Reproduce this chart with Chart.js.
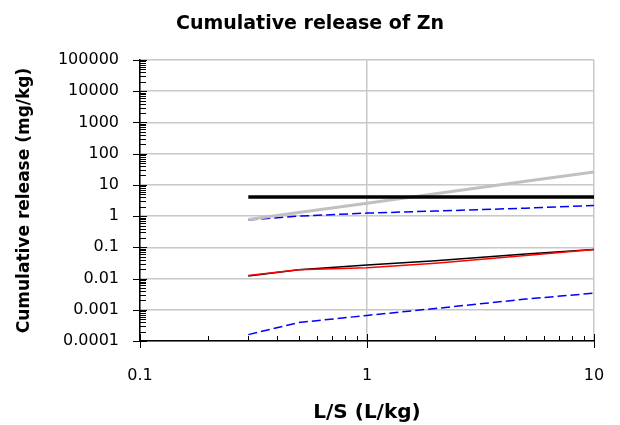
<!DOCTYPE html>
<html>
<head>
<meta charset="utf-8">
<script src="https://cdn.jsdelivr.net/npm/chart.js@4/dist/chart.umd.min.js"></script>
<style>
  html, body { margin: 0; padding: 0; background: #fff; }
  #wrap { width: 620px; height: 425px; position: relative; }
</style>
</head>
<body>
<div id="wrap"><canvas id="znChart"></canvas></div>
<script>
// L/S values (L/kg) and cumulative release of Zn (mg/kg)
const lsSteps = [0.3, 0.5, 1, 2, 5, 10];
const limitLine = [4.1, 4.1, 4.1, 4.1, 4.1, 4.1];
const greyLine = [0.78, 1.3, 2.6, 5.2, 13, 26];
const upperDashed = [0.75, 1.0, 1.25, 1.45, 1.8, 2.2];
const measured = [0.012, 0.019, 0.027, 0.037, 0.061, 0.085];
const modelled = [0.0125, 0.019, 0.022, 0.031, 0.055, 0.085];
const lowerDashed = [0.00016, 0.00039, 0.00066, 0.0011, 0.0022, 0.0034];

const xMajorTicks = [0.1, 1, 10];
const yMajorTicks = [0.0001, 0.001, 0.01, 0.1, 1, 10, 100, 1000, 10000, 100000];
const minorSteps = [2, 3, 4, 5, 6, 7, 8, 9];

const AXIS_FONT = 'DejaVu Sans';

function points(values) {
  return lsSteps.map((x, i) => ({ x: x, y: values[i] }));
}

function buildTicks(majors) {
  const out = [];
  majors.forEach((m, i) => {
    out.push({ value: m, major: true });
    if (i < majors.length - 1) {
      minorSteps.forEach((s) => out.push({ value: +(m * s).toPrecision(6), major: false }));
    }
  });
  return out;
}

function fmt(v) {
  return v < 1 ? v.toFixed(Math.round(-Math.log10(v))) : String(v);
}

// title plus Excel-like tick marks: majors cross the axis, minors point inwards
const chartDecor = {
  id: 'chartDecor',
  afterDraw(chart) {
    const { ctx, chartArea } = chart;
    const xs = chart.scales.x;
    const ys = chart.scales.y;
    ctx.save();
    ctx.strokeStyle = '#000';
    ctx.lineWidth = 1;
    ctx.beginPath();
    ys.ticks.forEach((t) => {
      const py = Math.round(ys.getPixelForValue(t.value)) + 0.5;
      if (t.major) { ctx.moveTo(chartArea.left - 7, py); ctx.lineTo(chartArea.left + 7, py); }
      else { ctx.moveTo(chartArea.left, py); ctx.lineTo(chartArea.left + 6, py); }
    });
    xs.ticks.forEach((t) => {
      const px = Math.round(xs.getPixelForValue(t.value)) + 0.5;
      if (t.major) { ctx.moveTo(px, chartArea.bottom - 7); ctx.lineTo(px, chartArea.bottom + 7); }
      else { ctx.moveTo(px, chartArea.bottom - 5); ctx.lineTo(px, chartArea.bottom); }
    });
    ctx.stroke();

    ctx.fillStyle = '#000';
    ctx.font = 'bold 19px ' + AXIS_FONT;
    ctx.textAlign = 'center';
    ctx.textBaseline = 'middle';
    ctx.fillText('Cumulative release of Zn', 310, 24);
    ctx.restore();
  }
};

function makeSet(label, values, color, width, dash) {
  return {
    label: label,
    data: points(values),
    borderColor: color,
    backgroundColor: color,
    borderWidth: width,
    borderDash: dash || [],
    pointRadius: 0,
    tension: 0,
    fill: false,
  };
}

document.addEventListener('DOMContentLoaded', function () {
  const canvas = document.getElementById('znChart');
  new Chart(canvas, {
    type: 'line',
    data: {
      datasets: [
        makeSet('Limit', limitLine, '#000000', 3.5),
        makeSet('Reference', greyLine, '#c0c0c0', 3),
        makeSet('Upper', upperDashed, '#0000ff', 1.5, [9, 4]),
        makeSet('Model', modelled, '#ff0000', 1.5),
        makeSet('Measured', measured, '#000000', 1.5),
        makeSet('Lower', lowerDashed, '#0000ff', 1.5, [9, 4]),
      ],
    },
    options: {
      responsive: true,
      maintainAspectRatio: false,
      animation: false,
      layout: { padding: { left: 0, right: 26, top: 60, bottom: 0 } },
      plugins: {
        legend: { display: false },
        title: { display: false },
        tooltip: { enabled: false },
      },
      scales: {
        x: {
          type: 'logarithmic',
          min: 0.1,
          max: 10,
          afterBuildTicks: (s) => { s.ticks = buildTicks(xMajorTicks); },
          afterFit: (s) => { s.height = 84; s.paddingLeft = 0; s.paddingRight = 0; },
          border: { display: true, color: '#000', width: 1.5 },
          grid: {
            drawTicks: false,
            color: (c) => (c.tick && c.tick.major ? '#c8c8c8' : 'rgba(0,0,0,0)'),
            lineWidth: 1.5,
          },
          ticks: {
            autoSkip: false,
            maxRotation: 0,
            padding: 25,
            color: '#000',
            font: { family: AXIS_FONT, size: 16 },
            callback: function (v, i, ticks) { return ticks[i].major ? fmt(v) : ''; },
          },
          title: {
            display: true,
            text: 'L/S (L/kg)',
            color: '#000',
            font: { family: AXIS_FONT, size: 20, weight: 'bold' },
            padding: { top: 0, bottom: 0 },
          },
        },
        y: {
          type: 'logarithmic',
          min: 0.0001,
          max: 100000,
          afterBuildTicks: (s) => { s.ticks = buildTicks(yMajorTicks); },
          afterFit: (s) => { s.width = 140; s.paddingTop = 0; s.paddingBottom = 0; },
          border: { display: true, color: '#000', width: 1.5 },
          grid: {
            drawTicks: false,
            color: (c) => (c.tick && c.tick.major ? '#c8c8c8' : 'rgba(0,0,0,0)'),
            lineWidth: 1.5,
          },
          ticks: {
            autoSkip: false,
            padding: 21,
            color: '#000',
            font: { family: AXIS_FONT, size: 16 },
            callback: function (v, i, ticks) { return ticks[i].major ? fmt(v) : ''; },
          },
          title: {
            display: true,
            text: 'Cumulative release (mg/kg)',
            color: '#000',
            font: { family: AXIS_FONT, size: 17, weight: 'bold' },
            padding: { top: 14, bottom: 0 },
          },
        },
      },
    },
    plugins: [chartDecor],
  });
});
</script>
</body>
</html>
